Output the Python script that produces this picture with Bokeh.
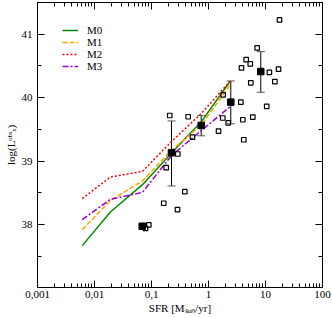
from bokeh.plotting import figure
from bokeh.models import (LogAxis, LinearAxis, Range1d, LogTicker, SingleIntervalTicker,
                          CustomJSTickFormatter, Legend, LegendItem, Whisker, TeeHead,
                          ColumnDataSource)
from bokeh.embed import file_html
from bokeh.resources import INLINE

# ---- model curves (SFR in Msun/yr, log Lx) ----
model_sfr = [0.0061, 0.019, 0.0695, 0.2245, 0.745, 2.4]
m0 = [37.67, 38.20, 38.63, 39.13, 39.62, 40.26]
m1 = [37.92, 38.38, 38.69, 39.17, 39.57, 40.20]
m2 = [38.41, 38.75, 38.84, 39.31, 39.75, 40.26]
m3 = [38.08, 38.40, 38.51, 39.09, 39.48, 39.86]

# ---- individual galaxies (open squares) ----
gal_sfr = [17.6, 7.15, 4.58, 5.40, 3.79, 11.7, 16.9, 14.6, 5.52, 3.69, 10.5, 5.98, 4.0, 4.16,
           0.209, 0.44, 1.81, 1.78, 2.22, 1.50, 0.524, 0.289, 0.181, 0.384, 0.286, 0.164,
           0.0785, 0.0897]
gal_lx = [41.225, 40.785, 40.60, 40.533, 40.47, 40.40, 40.45, 40.255, 40.234, 39.93, 39.862,
          39.695, 39.653, 39.338, 39.72, 39.70, 40.046, 39.68, 39.605, 39.475, 39.38, 39.113,
          38.898, 38.52, 38.237, 38.337, 37.94, 37.997]

# ---- binned averages (filled squares) ----
bin_sfr = [0.0687, 0.2245, 0.745, 2.46, 8.26]
bin_lx = [37.975, 39.134, 39.563, 39.93, 40.412]
err_sfr = [0.2245, 0.745, 2.46, 8.26]
err_lo = [38.61, 39.40, 39.59, 40.086]
err_hi = [39.634, 39.718, 40.264, 40.726]

x_tick_labels = ["0,001", "0,01", "0,1", "1", "10", "100"]
series_names = ["M0", "M1", "M2", "M3"]
x_title = "SFR [M\u209b\u1d64\u2099/yr]"
y_title = "log(L\u1d52\u1d47\u02e2\u2093)"

FONT = "Liberation Serif"

p = figure(x_axis_type="log", x_range=Range1d(0.001, 100), y_range=Range1d(37.01, 41.5),
           width=332, height=318, min_border_left=37, min_border_right=10,
           min_border_top=2, min_border_bottom=31, output_backend="svg",
           toolbar_location=None, background_fill_color="white",
           border_fill_color="white")
p.outline_line_color = None
p.xgrid.visible = False
p.ygrid.visible = False

xt = LogTicker(desired_num_ticks=6, num_minor_ticks=10)
yt = SingleIntervalTicker(interval=1, num_minor_ticks=2)
xfmt = CustomJSTickFormatter(args=dict(labels=x_tick_labels),
                             code="return labels[Math.round(Math.log10(tick)) + 3];")

def style(ax, show_labels):
    ax.axis_line_color = "black"
    ax.axis_line_width = 1
    ax.major_tick_in = 7
    ax.major_tick_out = 0
    ax.minor_tick_in = 4
    ax.minor_tick_out = 0
    ax.major_tick_line_color = "black"
    ax.minor_tick_line_color = "black"
    ax.major_label_text_font = FONT
    ax.major_label_text_font_size = "11px"
    ax.axis_label_text_font = FONT
    ax.axis_label_text_font_size = "11px"
    ax.axis_label_text_font_style = "normal"
    ax.axis_label_text_color = "black"
    if show_labels:
        ax.major_label_text_color = "black"
    else:
        ax.major_label_text_color = None
        ax.major_label_text_font_size = "1px"
        ax.major_label_standoff = 0

xa = p.xaxis[0]
xa.ticker = xt
xa.formatter = xfmt
style(xa, True)
xa.major_label_standoff = 3
xa.axis_label = x_title
xa.axis_label_standoff = 1

ya = p.yaxis[0]
ya.ticker = yt
style(ya, True)
ya.major_label_standoff = 5
ya.axis_label = y_title
ya.axis_label_standoff = 2

top = LogAxis(ticker=xt)
style(top, False)
p.add_layout(top, "above")
right = LinearAxis(ticker=yt)
style(right, False)
p.add_layout(right, "right")

# model lines
colors = ["#008b00", "#ffa500", "#ff0000", "#9400d3"]
dashes = ["solid", "5 2", "2 2", "6 2 2 2"]
lines = []
for ys, c, d in zip([m0, m1, m2, m3], colors, dashes):
    r = p.line(model_sfr, ys, line_color=c, line_dash=d, line_width=1.5)
    lines.append(r)

# open squares
p.scatter(gal_sfr, gal_lx, marker="square", size=4.5, fill_color=None,
          line_color="black", line_width=1.2)

# error bars
esrc = ColumnDataSource(dict(x=err_sfr, lo=err_lo, hi=err_hi))
wh = Whisker(base="x", lower="lo", upper="hi", source=esrc, dimension="height",
             line_color="black", line_width=1,
             upper_head=TeeHead(size=8, line_color="#555555", line_width=1),
             lower_head=TeeHead(size=8, line_color="#555555", line_width=1))
p.add_layout(wh)

# filled squares
p.scatter(bin_sfr, bin_lx, marker="square", size=6.5, fill_color="black", line_color="black")

legend = Legend(items=[LegendItem(label=n, renderers=[r]) for n, r in zip(series_names, lines)],
                location=(25, 215), padding=0, margin=0, spacing=0,
                glyph_width=16, glyph_height=12, label_height=12, label_standoff=9,
                border_line_color=None, background_fill_alpha=0,
                label_text_font=FONT, label_text_font_size="11px",
                label_text_color="black")
p.add_layout(legend)

open("out.html", "w").write(file_html(p, INLINE))
